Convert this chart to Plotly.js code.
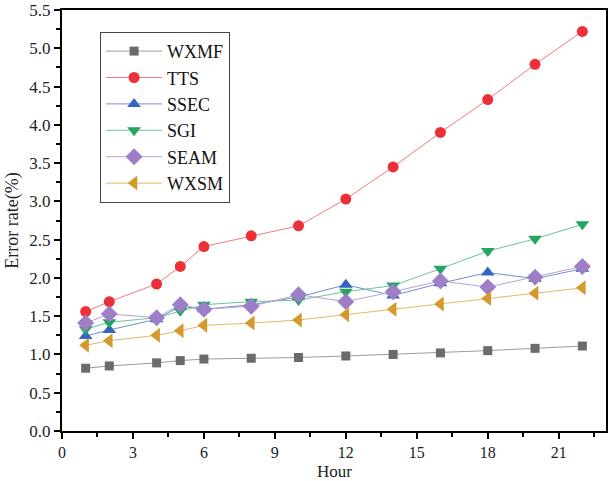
<!DOCTYPE html>
<html>
<head>
<meta charset="utf-8">
<script src="https://cdn.plot.ly/plotly-3.0.1.min.js"></script>
<style>html,body{margin:0;padding:0;background:#fff;}#chart{width:609px;height:481px;}</style>
</head>
<body>
<div id="chart"></div>
<script>
var hours = [1, 2, 4, 5, 6, 8, 10, 12, 14, 16, 18, 20, 22];
var WXMF = [0.82, 0.85, 0.89, 0.92, 0.94, 0.95, 0.96, 0.98, 1.00, 1.02, 1.05, 1.08, 1.11];
var TTS  = [1.56, 1.69, 1.92, 2.15, 2.41, 2.55, 2.68, 3.03, 3.45, 3.90, 4.33, 4.79, 5.22];
var SSEC = [1.24, 1.32, 1.46, 1.63, 1.59, 1.65, 1.75, 1.91, 1.77, 1.93, 2.07, 1.99, 2.12];
var SGI  = [1.33, 1.42, 1.48, 1.57, 1.65, 1.69, 1.71, 1.82, 1.90, 2.12, 2.35, 2.51, 2.70];
var SEAM = [1.41, 1.53, 1.48, 1.65, 1.59, 1.63, 1.78, 1.69, 1.82, 1.96, 1.88, 2.01, 2.15];
var WXSM = [1.12, 1.18, 1.25, 1.31, 1.38, 1.41, 1.45, 1.52, 1.59, 1.66, 1.73, 1.80, 1.87];
var seriesNames = ['WXMF', 'TTS', 'SSEC', 'SGI', 'SEAM', 'WXSM'];
var xTitle = 'Hour';
var yTitle = 'Error rate(%)';

var seriesData = [WXMF, TTS, SSEC, SGI, SEAM, WXSM];
var markerColors = ['#6b6b6b', '#ec3037', '#3565bd', '#27a463', '#9e7ec6', '#d49a2c'];
var lineColors = ['#9a9a9a', '#f07a7e', '#6f8fd0', '#6cc496', '#b8a2d6', '#e2b865'];
var symbols = ['square', 'circle', 'triangle-up', 'triangle-down', 'diamond', 'triangle-left'];
var sizes = [9, 11, 12, 12, 13, 13];

var traces = seriesNames.map(function (n, i) {
  return {
    x: hours, y: seriesData[i], name: n, type: 'scatter', mode: 'lines+markers',
    line: {color: lineColors[i], width: 1},
    marker: {color: markerColors[i], symbol: symbols[i], size: sizes[i], line: {width: 0}}
  };
});

var fontFam = 'Liberation Serif, Times New Roman, serif';
var layout = {
  width: 609, height: 481,
  margin: {l: 62, r: 3, t: 10, b: 50},
  paper_bgcolor: '#fff', plot_bgcolor: '#fff',
  font: {family: fontFam, size: 17, color: '#222'},
  showlegend: true,
  legend: {
    x: 0.07, y: 0.948, xanchor: 'left', yanchor: 'top',
    bordercolor: '#444', borderwidth: 1, bgcolor: '#fff',
    font: {family: fontFam, size: 18, color: '#111'},
    itemwidth: 56, tracegroupgap: 0
  },
  xaxis: {
    range: [0, 23], dtick: 3, tick0: 0,
    showgrid: false, zeroline: false,
    showline: true, linecolor: '#000', linewidth: 2, mirror: true,
    ticks: 'outside', ticklen: 6, tickwidth: 2, tickcolor: '#000',
    ticklabelstandoff: 0,
    minor: {dtick: 1.5, tick0: 0, ticks: 'outside', ticklen: 4, tickwidth: 2, tickcolor: '#000', showgrid: false},
    tickfont: {family: fontFam, size: 16, color: '#222'}
  },
  yaxis: {
    range: [0, 5.5], dtick: 0.5, tick0: 0, tickformat: '.1f',
    showgrid: false, zeroline: false,
    showline: true, linecolor: '#000', linewidth: 2, mirror: true,
    ticks: 'outside', ticklen: 6, tickwidth: 2, tickcolor: '#000',
    minor: {dtick: 0.25, tick0: 0, ticks: 'outside', ticklen: 4, tickwidth: 2, tickcolor: '#000', showgrid: false},
    tickfont: {family: fontFam, size: 17, color: '#222'},
    title: {text: yTitle, font: {family: fontFam, size: 18, color: '#222'}, standoff: 6}
  },
  annotations: [{
    text: xTitle, xref: 'paper', yref: 'paper', x: 0.5, y: -0.097,
    xanchor: 'center', yanchor: 'middle', showarrow: false, borderpad: 0,
    font: {family: fontFam, size: 17, color: '#222'}
  }]
};

Plotly.newPlot('chart', traces, layout, {displayModeBar: false, staticPlot: true}).then(function (gd) {
  var els = gd.querySelectorAll('.legendtext');
  for (var i = 0; i < els.length; i++) {
    els[i].style.fontFamily = '"Liberation Serif", "Times New Roman", serif';
  }
});
</script>
</body>
</html>
